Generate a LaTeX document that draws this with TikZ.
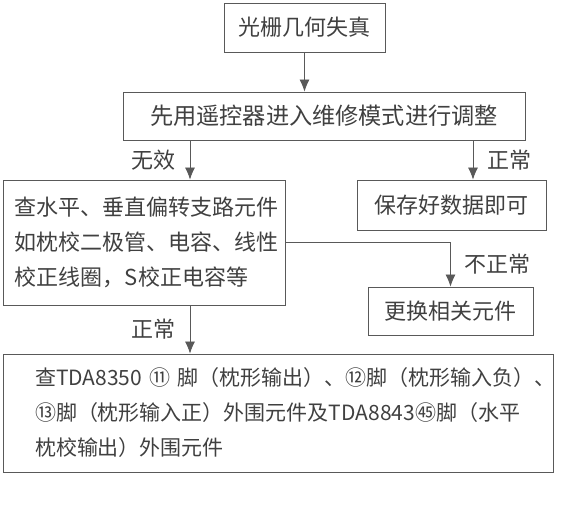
\documentclass[tikz,border=0pt]{standalone}
\usepackage{fontspec}
\setmainfont{Noto Sans CJK SC}
\usetikzlibrary{arrows.meta,positioning,calc}
\tikzset{
  doboz/.style={draw=black!65,thin,inner sep=0pt,align=center,text=black!75,
                font=\fontsize{11}{17.5}\selectfont},
  baldoboz/.style={doboz,align=left,inner ysep=0pt},
  nyil/.style={draw=black!65,thin,-{Latex[length=6pt,width=5pt]}},
  cimke/.style={font=\fontsize{11}{13}\selectfont,text=black!75,inner xsep=7pt,inner ysep=1pt},
}
\begin{document}
\begin{tikzpicture}[x=0.5pt,y=-0.5pt]
  \useasboundingbox (0,0) rectangle (585,519);
  % dobozok
  \node[doboz,minimum width=80.5pt,minimum height=24.5pt] (kep) at (304.5,27.5) {光栅几何失真};
  \node[doboz,minimum width=201pt,minimum height=24pt,font=\fontsize{11.6}{17.5}\selectfont] (mod) at (324,116)
    {先用遥控器进入维修模式进行调整};
  \node[baldoboz,text width=129pt,inner xsep=6pt,minimum height=62.5pt] (ell) at (144,242.5)
    {查水平、垂直偏转支路元件\\如枕校二极管、电容、线性\\校正线圈，S校正电容等};
  \node[doboz,minimum width=94.5pt,minimum height=25pt] (ment) at (451.5,205) {保存好数据即可};
  \node[doboz,minimum width=82.5pt,minimum height=24pt] (csere) at (450.5,311) {更换相关元件};
  \node[baldoboz,text width=243pt,inner xsep=16pt,minimum height=59pt,font=\fontsize{10.5}{17.5}\selectfont]
    (tda) at (278,413)
    {查TDA8350~⑪~脚（枕形输出）、⑫脚（枕形输入负）、\\⑬脚（枕形输入正）外围元件及TDA8843㊺脚（水平\\枕校输出）外围元件};
  % nyilak
  \coordinate (balx) at (190,0);
  \coordinate (jobbx) at (473,0);
  \draw[nyil] (kep.south) -- (kep.south |- mod.north);
  \draw[nyil] (balx |- mod.south) -- node[cimke,left] {无效} (balx |- ell.north);
  \draw[nyil] (jobbx |- mod.south) -- node[cimke,right] {正常} (jobbx |- ment.north);
  \draw[nyil] (ell.east) -| node[cimke,right,pos=0.75] {不正常} (csere.north);
  \draw[nyil] (balx |- ell.south) -- node[cimke,left] {正常} (balx |- tda.north);
\end{tikzpicture}
\end{document}
